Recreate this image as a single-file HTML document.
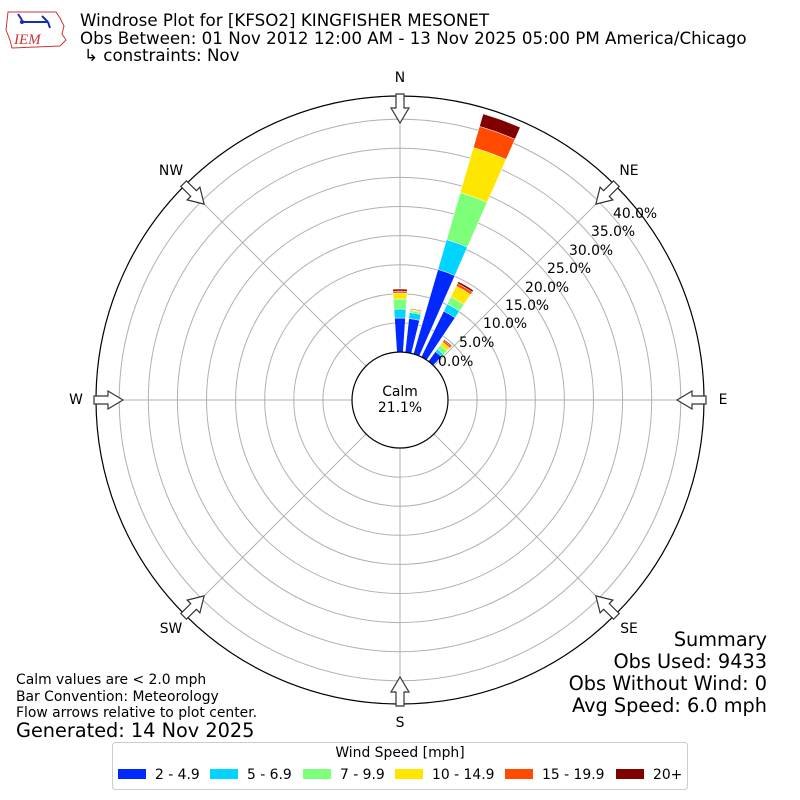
<!DOCTYPE html>
<html><head><meta charset="utf-8"><style>
html,body{margin:0;padding:0;background:#fff;}
svg{display:block;font-family:"DejaVu Sans","Liberation Sans",sans-serif;}
</style></head><body>
<svg id="s" width="800" height="800" viewBox="0 0 800 800" xmlns="http://www.w3.org/2000/svg">
<rect width="800" height="800" fill="#fff"/>
<g>
<path d="M8 12 L56 12 L60 18 L64 26 L62 34 L66 40 L60 46 L12 48 L10 40 L6 30 Z" fill="none" stroke="#c33" stroke-width="1"/>
<line x1="20" y1="22" x2="48" y2="22" stroke="#1a2bb8" stroke-width="2"/>
<circle cx="22" cy="22" r="2" fill="#1a2bb8"/>
<path d="M18 14 L22 20 M42 16 L48 22 M48 22 L50 28" stroke="#1a2bb8" stroke-width="2" fill="none"/>
<text x="14" y="44" font-family="Liberation Serif,serif" font-style="italic" font-size="15" fill="#c33">IEM</text>
</g>
<g font-size="16.7" fill="#000">
<text x="80" y="26">Windrose Plot for [KFSO2] KINGFISHER MESONET</text>
<text x="80" y="44">Obs Between: 01 Nov 2012 12:00 AM - 13 Nov 2025 05:00 PM America/Chicago</text>
<text x="84" y="61">↳ constraints: Nov</text>
</g>
<g id="grid"></g>
<g id="bars"></g>
<circle cx="400" cy="400" r="304" fill="none" stroke="#000" stroke-width="1.2"/>
<circle cx="400" cy="400" r="48" fill="#fff" stroke="#000" stroke-width="1.2"/>
<g id="arrows"></g>
<text x="400" y="396" font-size="13.9" text-anchor="middle">Calm</text>
<text x="400" y="412" font-size="13.9" text-anchor="middle">21.1%</text>
<g font-size="13.9" text-anchor="middle">
<text x="400" y="82">N</text><text x="629" y="175">NE</text><text x="723" y="404">E</text><text x="629" y="633">SE</text>
<text x="400" y="727">S</text><text x="171" y="633">SW</text><text x="76" y="404">W</text><text x="171" y="175">NW</text>
</g>
<g font-size="13.9">
<text x="438" y="366">0.0%</text><text x="459" y="347">5.0%</text><text x="483" y="328">10.0%</text>
<text x="505" y="310">15.0%</text><text x="525" y="292">20.0%</text><text x="547" y="273">25.0%</text>
<text x="569" y="255">30.0%</text><text x="591" y="236">35.0%</text><text x="613" y="218">40.0%</text>
</g>
<g font-size="19.3" text-anchor="end">
<text x="767" y="646">Summary</text><text x="767" y="668">Obs Used: 9433</text>
<text x="767" y="690">Obs Without Wind: 0</text><text x="767" y="712">Avg Speed: 6.0 mph</text>
</g>
<g font-size="13.9">
<text x="16" y="684">Calm values are &lt; 2.0 mph</text>
<text x="16" y="701">Bar Convention: Meteorology</text>
<text x="16" y="717">Flow arrows relative to plot center.</text>
</g>
<text x="16" y="737" font-size="19.3">Generated: 14 Nov 2025</text>
<rect x="112.5" y="742.5" width="575" height="47" rx="3" fill="#fff" stroke="#ccc"/>
<text x="400" y="757" font-size="13.9" text-anchor="middle">Wind Speed [mph]</text>
<g font-size="13.9">
<rect x="118" y="769" width="28" height="10" fill="#0028ff"/><text x="155" y="779">2 - 4.9</text>
<rect x="210" y="769" width="28" height="10" fill="#00d4ff"/><text x="247" y="779">5 - 6.9</text>
<rect x="303" y="769" width="28" height="10" fill="#7dff7a"/><text x="340" y="779">7 - 9.9</text>
<rect x="395" y="769" width="28" height="10" fill="#ffe600"/><text x="432" y="779">10 - 14.9</text>
<rect x="505" y="769" width="28" height="10" fill="#ff4a00"/><text x="542" y="779">15 - 19.9</text>
<rect x="616" y="769" width="28" height="10" fill="#800000"/><text x="653" y="779">20+</text>
</g>
<script>
(function(){
var NS="http://www.w3.org/2000/svg",cx=400,cy=400;
function el(t,a,p){var e=document.createElementNS(NS,t);for(var k in a)e.setAttribute(k,a[k]);p.appendChild(e);return e;}
function pt(r,d){var a=d*Math.PI/180;return [cx+r*Math.sin(a),cy-r*Math.cos(a)];}
var g=document.getElementById('grid');
for(var k=1;k<=8;k++)el('circle',{cx:cx,cy:cy,r:48+k*29.1,fill:'none',stroke:'#b0b0b0','stroke-width':1},g);
for(var d=0;d<360;d+=45){var a=pt(48,d),b=pt(304,d);el('line',{x1:a[0],y1:a[1],x2:b[0],y2:b[1],stroke:'#b0b0b0','stroke-width':1},g);}
var cols=['#0028ff','#00d4ff','#7dff7a','#ffe600','#ff4a00','#800000'];
var data=[[0,[82,91,101,107,109,111]],[10,[82,88,90,91,92,92]],[20,[136,167,216,263,285,298]],[30,[99,107,115,127,130,132]],[40,[60,63,68,72,74,75]]];
var bg=document.getElementById('bars');
data.forEach(function(b){var d=b[0],r0=48,w=3.8;
b[1].forEach(function(r1,i){if(r1<=r0)return;
var p1=pt(r0,d-w),p2=pt(r1,d-w),p3=pt(r1,d+w),p4=pt(r0,d+w);
el('path',{d:'M'+p1+' L'+p2+' A'+r1+' '+r1+' 0 0 1 '+p3+' L'+p4+' A'+r0+' '+r0+' 0 0 0 '+p1+'Z',fill:cols[i],stroke:'#fff','stroke-width':0.5},bg);r0=r1;});});
var ag=document.getElementById('arrows');
for(var d=0;d<360;d+=45){
var P=[[-4,0],[-4,14],[-9,14],[0,29],[9,14],[4,14],[4,0]].map(function(q){return [q[0],-306+q[1]];});
var s=P.map(function(q){return q.join(',');}).join(' ');
el('polygon',{points:s,fill:'#fff',stroke:'#333','stroke-width':1.2,transform:'translate(400,400) rotate('+d+')'},ag);}
})();
</script>
</svg>
</body></html>
